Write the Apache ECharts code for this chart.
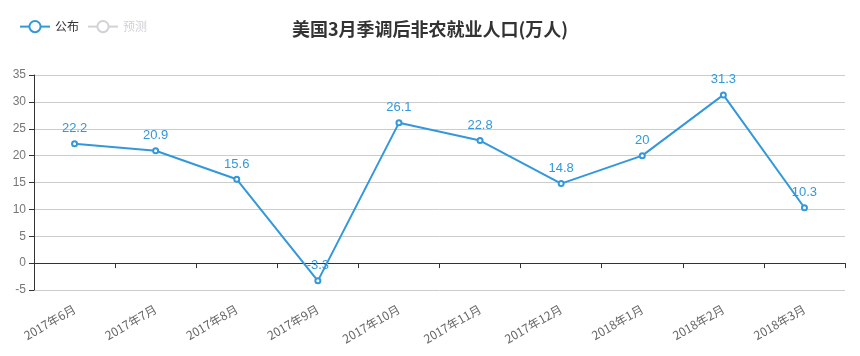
<!DOCTYPE html>
<html><head><meta charset="utf-8">
<script src="https://cdn.jsdelivr.net/npm/echarts@6/dist/echarts.min.js"></script>
<style>html,body{margin:0;padding:0;background:#fff}#c{width:860px;height:356px}</style>
</head><body><div id="c"></div>
<script>
const categories = ['2017年6月','2017年7月','2017年8月','2017年9月','2017年10月','2017年11月','2017年12月','2018年1月','2018年2月','2018年3月'];
const published = [22.2, 20.9, 15.6, -3.3, 26.1, 22.8, 14.8, 20, 31.3, 10.3];
const forecast = [];
const yTicks = {min: -5, max: 35, interval: 5};
const chart = echarts.init(document.getElementById('c'));
chart.setOption({
  animation: false,
  title: {text: '美国3月季调后非农就业人口(万人)', left: 'center', top: 15,
    textStyle: {fontFamily: 'Noto Sans CJK SC', fontSize: 18, fontWeight: 'bold', color: '#333'}},
  legend: {left: 14, top: 15, itemWidth: 30, itemHeight: 14,
    selected: {'预测': false},
    textStyle: {fontFamily: 'Noto Sans CJK SC', fontSize: 12, color: '#333'},
    data: ['公布', '预测']},
  grid: {left: 34, right: 15, top: 75, bottom: 66, containLabel: false, outerBoundsMode: 'none'},
  xAxis: {type: 'category', data: categories, boundaryGap: true,
    axisLine: {onZero: true, lineStyle: {color: '#333'}}, axisTick: {show: true, lineStyle: {color: '#333'}},
    axisLabel: {rotate: 30, color: '#666', fontSize: 12, fontFamily: 'Noto Sans CJK SC', interval: 0, margin: 18}},
  yAxis: {type: 'value', min: yTicks.min, max: yTicks.max, interval: yTicks.interval,
    axisLine: {show: true, lineStyle: {color: '#333'}}, axisTick: {show: true, lineStyle: {color: '#333'}},
    axisLabel: {color: '#777', fontSize: 12},
    splitLine: {lineStyle: {color: '#ccc'}}},
  series: [
    {name: '公布', type: 'line', data: published, symbol: 'emptyCircle', symbolSize: 5,
      itemStyle: {color: '#3398DB'}, lineStyle: {width: 2, color: '#3398DB'},
      label: {show: true, position: 'top', color: '#3398DB', fontSize: 13}},
    {name: '预测', type: 'line', data: forecast, symbol: 'emptyCircle',
      itemStyle: {color: '#bbb'}}
  ]
});
</script></body></html>
